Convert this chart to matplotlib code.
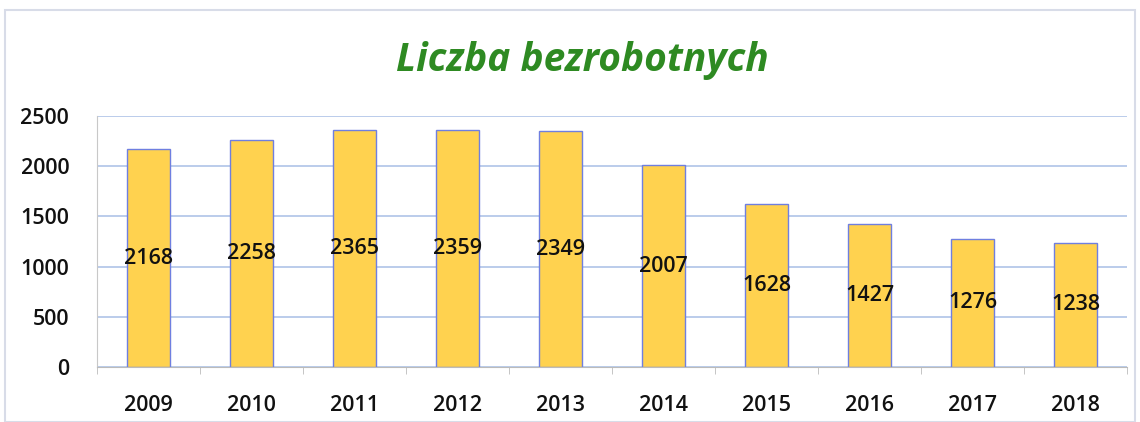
import matplotlib
matplotlib.use("Agg")
import matplotlib.pyplot as plt
from matplotlib.patches import Rectangle

years = ["2009", "2010", "2011", "2012", "2013", "2014", "2015", "2016", "2017", "2018"]
values = [2168, 2258, 2365, 2359, 2349, 2007, 1628, 1427, 1276, 1238]
yticks = [0, 500, 1000, 1500, 2000, 2500]
title = "Liczba bezrobotnych"

plt.rcParams['font.family'] = ['Open Sans', 'DejaVu Sans']

fig = plt.figure(figsize=(11.4, 4.22), dpi=100)
ax = fig.add_axes([97/1140, 1 - 367/422, 1030/1140, 251/422])

x = list(range(len(years)))
bars = ax.bar(x, values, width=0.41, color="#FFD24F", edgecolor="#6F7FE0", linewidth=1.0, zorder=3)
for xi, v in zip(x, values):
    ax.text(xi, v / 2, str(v), ha="center", va="center", fontsize=15.5, fontweight="semibold",
            color="#111111", zorder=4)

ax.set_xlim(-0.5, len(years) - 0.5)
ax.set_ylim(0, 2500)
ax.set_yticks(yticks)
ax.set_yticklabels([str(t) for t in yticks], fontsize=15.5, fontweight="semibold", color="#111111")
ax.set_xticks(x)
ax.set_xticklabels(years, fontsize=15.5, fontweight="semibold", color="#111111")
ax.tick_params(axis="x", length=0, pad=20)
ax.tick_params(axis="y", length=0, pad=20)
ax.set_xticks([i + 0.5 for i in range(-1, len(years))], minor=True)
ax.tick_params(axis="x", which="minor", length=5, color="#BBBBBB")

ax.grid(axis="y", color="#AFC3E8", linewidth=1.2, zorder=0)
for side in ["top", "right"]:
    ax.spines[side].set_visible(False)
ax.spines["left"].set_color("#C8C8C8")
ax.spines["bottom"].set_color("#BBBBBB")

fig.text(582/1140, 1 - 60/422, title, ha="center", va="center", fontsize=28,
         fontweight="bold", fontstyle="italic", color="#2E8A22")

fig.patches.append(Rectangle((5/1140, 0), 1 - 10/1140, 1 - 10/422, transform=fig.transFigure,
                             fill=False, edgecolor="#D8DCE8", linewidth=1.5))

fig.savefig("out.png", dpi=100)
